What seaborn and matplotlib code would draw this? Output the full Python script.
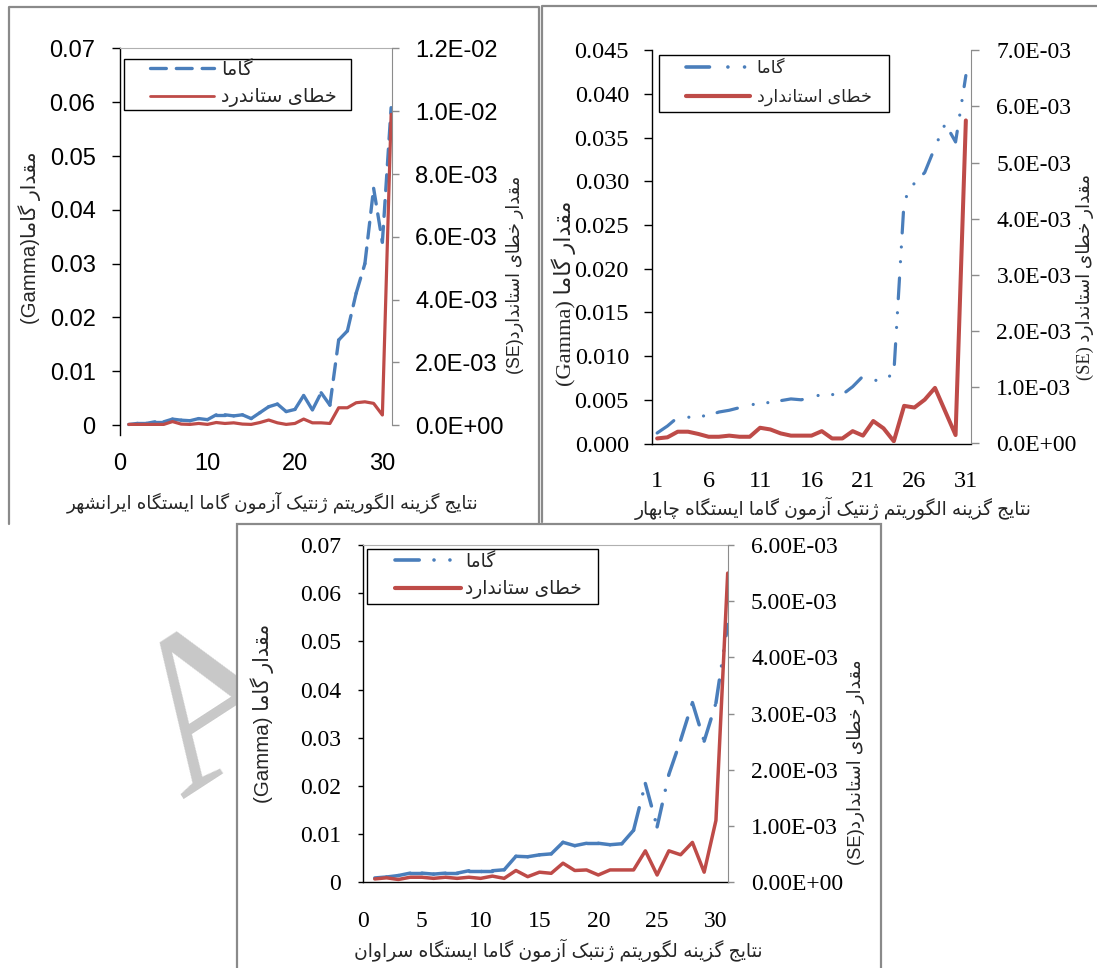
import matplotlib
matplotlib.use('Agg')
import matplotlib.pyplot as plt
import seaborn as sns
from matplotlib.lines import Line2D
from matplotlib.patches import Rectangle
from matplotlib.legend_handler import HandlerLine2D

sns.set_style('white')
SANS = ['Liberation Sans', 'DejaVu Sans']
SERIF = ['Liberation Serif', 'DejaVu Sans']
plt.rcParams['font.family'] = SANS

W, H = 1097, 968
BLUE = '#4A7EBB'
RED = '#BE4B48'
FA_SCALE = 1.08   # persian glyphs in DejaVu are narrow, widen a bit

# ---------------- data ----------------
runs = list(range(1, 32))

# Iranshahr
gamma_iranshahr = [0.0001, 0.0003, 0.0003, 0.0006, 0.0006, 0.0011, 0.0009, 0.0008, 0.0012, 0.0010,
                   0.0019, 0.0019, 0.0017, 0.0019, 0.0012, 0.0023, 0.0034, 0.0039, 0.0025, 0.0029,
                   0.0055, 0.0028, 0.0060, 0.0037, 0.0158, 0.0175, 0.0245, 0.0300, 0.0440, 0.0340,
                   0.0590]
se_iranshahr = [0.00002, 0.00002, 0.00002, 0.00002, 0.00002, 0.00011, 0.00003, 0.00002, 0.00005, 0.00002,
                0.00008, 0.00005, 0.00007, 0.00003, 0.00002, 0.00008, 0.00016, 0.00007, 0.00002, 0.00005,
                0.00019, 0.00007, 0.00007, 0.00005, 0.00055, 0.00055, 0.00071, 0.00074, 0.00069, 0.00032,
                0.00990]

# Chabahar
gamma_chabahar = [0.0012, 0.0020, 0.0030, 0.0030, 0.0031, 0.0032, 0.0036, 0.0038, 0.0041, 0.0044,
                  0.0046, 0.0047, 0.0049, 0.0051, 0.0050, 0.0053, 0.0056, 0.0056, 0.0056, 0.0065,
                  0.0077, 0.0072, 0.0073, 0.0080, 0.0278, 0.0298, 0.0310, 0.0339, 0.0366, 0.0345,
                  0.0421]
se_chabahar = [0.00009, 0.00011, 0.00021, 0.00021, 0.00017, 0.00012, 0.00012, 0.00014, 0.00012, 0.00012,
               0.00028, 0.00025, 0.00018, 0.00014, 0.00014, 0.00014, 0.00022, 0.00009, 0.00009, 0.00022,
               0.00014, 0.00040, 0.00027, 0.00004, 0.00067, 0.00064, 0.00078, 0.00099, 0.00057, 0.00015,
               0.00575]

# Saravan
gamma_saravan = [0.0009, 0.0011, 0.0014, 0.0019, 0.0019, 0.0017, 0.0019, 0.0019, 0.0024, 0.0024,
                 0.0024, 0.0026, 0.0054, 0.0053, 0.0057, 0.0059, 0.0083, 0.0076, 0.0081, 0.0081,
                 0.0078, 0.0080, 0.0108, 0.0205, 0.0115, 0.0224, 0.0295, 0.0373, 0.0293, 0.0372,
                 0.0535]
se_saravan = [0.00006, 0.00008, 0.00005, 0.00009, 0.00009, 0.00007, 0.00009, 0.00007, 0.00009, 0.00007,
              0.00011, 0.00007, 0.00021, 0.00010, 0.00018, 0.00016, 0.00034, 0.00021, 0.00022, 0.00013,
              0.00022, 0.00022, 0.00022, 0.00056, 0.00013, 0.00056, 0.00049, 0.00071, 0.00018, 0.00110,
              0.00550]

# ticks
p1_xticks = [0, 10, 20, 30]
p1_yticks = [0, 0.01, 0.02, 0.03, 0.04, 0.05, 0.06, 0.07]
p1_ylabels = ['0', '0.01', '0.02', '0.03', '0.04', '0.05', '0.06', '0.07']
p1_rticks = [0, 0.002, 0.004, 0.006, 0.008, 0.010, 0.012]
p1_rlabels = ['0.0E+00', '2.0E-03', '4.0E-03', '6.0E-03', '8.0E-03', '1.0E-02', '1.2E-02']

p2_xticks = [1, 6, 11, 16, 21, 26, 31]
p2_yticks = [0, 0.005, 0.010, 0.015, 0.020, 0.025, 0.030, 0.035, 0.040, 0.045]
p2_ylabels = ['0.000', '0.005', '0.010', '0.015', '0.020', '0.025', '0.030', '0.035', '0.040', '0.045']
p2_rticks = [0, 0.001, 0.002, 0.003, 0.004, 0.005, 0.006, 0.007]
p2_rlabels = ['0.0E+00', '1.0E-03', '2.0E-03', '3.0E-03', '4.0E-03', '5.0E-03', '6.0E-03', '7.0E-03']

p3_xticks = [0, 5, 10, 15, 20, 25, 30]
p3_yticks = [0, 0.01, 0.02, 0.03, 0.04, 0.05, 0.06, 0.07]
p3_ylabels = ['0', '0.01', '0.02', '0.03', '0.04', '0.05', '0.06', '0.07']
p3_rticks = [0, 0.001, 0.002, 0.003, 0.004, 0.005, 0.006]
p3_rlabels = ['0.00E+00', '1.00E-03', '2.00E-03', '3.00E-03', '4.00E-03', '5.00E-03', '6.00E-03']

# texts (logical order)
leg_gamma = 'گاما'
leg_se1 = 'خطای ستاندرد'
leg_se2 = 'خطای استاندارد'
leg_se3 = 'خطای ستاندارد'
yl_gamma = 'مقدار گاما'
yl_se = 'مقدار خطای استاندارد'
xl1 = 'نتایج گزینه الگوریتم ژنتیک آزمون گاما ایستگاه ایرانشهر'
xl2 = 'نتایج گزینه الگوریتم ژنتیک آزمون گاما ایستگاه چابهار'
xl3 = 'نتایج گزینه لگوریتم ژنتبک آزمون گاما ایستگاه سراوان'

# ------------- persian shaping (no reshaper lib available) -------------
DUAL = {'ب': 0xFE8F, 'ت': 0xFE95, 'ث': 0xFE99, 'ج': 0xFE9D, 'ح': 0xFEA1, 'خ': 0xFEA5,
        'س': 0xFEB1, 'ش': 0xFEB5, 'ص': 0xFEB9, 'ض': 0xFEBD, 'ط': 0xFEC1, 'ظ': 0xFEC5,
        'ع': 0xFEC9, 'غ': 0xFECD, 'ف': 0xFED1, 'ق': 0xFED5, 'ل': 0xFEDD, 'م': 0xFEE1,
        'ن': 0xFEE5, 'ه': 0xFEE9, 'پ': 0xFB56, 'چ': 0xFB7A, 'ک': 0xFB8E, 'گ': 0xFB92,
        'ی': 0xFBFC}
RIGHT = {'ا': 0xFE8D, 'آ': 0xFE81, 'د': 0xFEA9, 'ذ': 0xFEAB, 'ر': 0xFEAD, 'ز': 0xFEAF,
         'ژ': 0xFB8A, 'و': 0xFEED}


def rtl(s):
    out = []
    for i, c in enumerate(s):
        if c in DUAL or c in RIGHT:
            base = DUAL.get(c, RIGHT.get(c))
            p = s[i - 1] if i > 0 else ''
            q = s[i + 1] if i < len(s) - 1 else ''
            jp = p in DUAL
            jn = c in DUAL and (q in DUAL or q in RIGHT)
            k = 3 if (jp and jn) else 1 if jp else 2 if jn else 0
            out.append(chr(base + k))
        else:
            out.append(c)
    return ''.join(out)[::-1]


fig = plt.figure(figsize=(W / 100, H / 100), dpi=100)
renderer = fig.canvas.get_renderer()


def px_axes(l, t, r, b):
    return fig.add_axes([l / W, 1 - b / H, (r - l) / W, (b - t) / H])


def fig_line(xs, ys, **kw):
    fig.add_artist(Line2D([x / W for x in xs], [1 - y / H for y in ys],
                          transform=fig.transFigure, **kw))


def put_text(s, cx, cy, length, family, rot=0, base=14):
    t = fig.text(cx / W, 1 - cy / H, s, ha='center', va='center', rotation=rot,
                 fontsize=base, family=family)
    bb = t.get_window_extent(renderer)
    cur = bb.width if rot == 0 else bb.height
    t.set_fontsize(base * length * FA_SCALE / cur)
    return t


def measure(s, size, family):
    t = fig.text(0, 0, s, fontsize=size, family=family)
    bb = t.get_window_extent(renderer)
    t.remove()
    return bb.width, bb.height


def add_legend(ax, axbox, handles, labels, box, rows, handle_x, text_x, text_w):
    base = 12
    w0 = max(measure(lab, base, SANS)[0] for lab in labels)
    fs_pt = base * text_w * FA_SCALE / w0
    fs = fs_pt * 100 / 72
    h_row = max(measure(lab, fs_pt, SANS)[1] for lab in labels)
    l, t, r, b = box
    bp = max((rows[0] - t - h_row / 2) / fs, 0.05)
    ls = max((rows[1] - rows[0] - h_row) / fs, 0)
    x0 = l + bp * fs
    al, at, ar, ab = axbox
    leg = ax.legend(handles, labels, loc='upper left',
                    bbox_to_anchor=((l - al) / (ar - al), (ab - b) / (ab - at),
                                    (r - l) / (ar - al), (b - t) / (ab - at)),
                    mode='expand', borderaxespad=0, borderpad=bp, labelspacing=ls,
                    handlelength=(handle_x[1] - x0) / fs,
                    handletextpad=(text_x - handle_x[1]) / fs,
                    prop={'family': SANS, 'size': fs_pt}, frameon=True, fancybox=False,
                    framealpha=1, edgecolor='black',
                    handler_map={Line2D: HandlerLine2D(xpad=(handle_x[0] - x0) / fs)})
    leg.get_frame().set_linewidth(1.0)
    return leg


def seg_plot(ax, xs, ys, **kw):
    # excel restarts the dash pattern at every vertex
    for i in range(len(xs) - 1):
        ax.plot(xs[i:i + 2], ys[i:i + 2], **kw)


# ---------------- panel frames + watermark ----------------
GRAYF = '#8a8a8a'
fig_line([9, 9, 539, 539], [524, 7, 7, 524], color=GRAYF, lw=1.6, zorder=-1)
fig_line([542, 542, 1100], [522, 6, 6], color=GRAYF, lw=1.6, zorder=-1)
fig.text(220 / W, 1 - 712 / H, 'A', family='Liberation Serif', fontsize=158, color='#c8c8c8',
         rotation=33, ha='center', va='center', zorder=-3)
fig.add_artist(Rectangle((237 / W, 1 - 975 / H), 644 / W, 451 / H, transform=fig.transFigure,
                         facecolor='white', edgecolor=GRAYF, lw=1.6, zorder=-2))

# ---------------- panel 1 : Iranshahr ----------------
box1 = (120, 48.5, 392, 434.6)
ax1 = px_axes(*box1)
seg_plot(ax1, runs, gamma_iranshahr, color=BLUE, lw=2.4, linestyle=(0, (4.75, 3.0)),
         dash_capstyle='round', solid_capstyle='round')
ax1.set_xlim(0, 31.1)
ax1.set_ylim(-0.00178, 0.07)
ax1b = ax1.twinx()
sns.lineplot(x=runs, y=se_iranshahr, ax=ax1b, color=RED, lw=2.3,
             solid_joinstyle='round', solid_capstyle='round')
ax1b.set_ylim(-0.00178 * 0.012 / 0.07, 0.012)

ax1.set_xticks(p1_xticks, [str(v) for v in p1_xticks])
ax1.set_yticks(p1_yticks, p1_ylabels)
ax1.tick_params(axis='x', direction='in', length=5.8, width=1, pad=13, labelsize=17, colors='black')
ax1.tick_params(axis='y', direction='out', length=5.8, width=1, pad=11.8, labelsize=17, colors='black')
ax1b.set_yticks(p1_rticks, p1_rlabels)
ax1b.tick_params(axis='y', direction='out', length=5, width=1, pad=11.7, labelsize=17,
                 color='#8c8c8c', labelcolor='black')
for sp in ['bottom', 'right']:
    ax1.spines[sp].set_visible(False)
ax1.spines['left'].set_color('black')
ax1.spines['left'].set_linewidth(1.0)
ax1.spines['top'].set_color('#b0b0b0')
ax1.spines['top'].set_linewidth(0.8)
for sp in ['bottom', 'top', 'left']:
    ax1b.spines[sp].set_visible(False)
ax1b.spines['right'].set_color('#8c8c8c')
ax1b.spines['right'].set_bounds(0, 0.012)
ax1b.set_xlabel('')
ax1b.set_ylabel('')

add_legend(ax1b, box1,
           [Line2D([], [], color=BLUE, lw=2.4, linestyle=(0, (4.75, 3.0)), dash_capstyle='round'),
            Line2D([], [], color=RED, lw=2.0)],
           [rtl(leg_gamma), rtl(leg_se1)],
           (124, 58.6, 351, 114), (71, 99.4), (149.5, 214), 220.7, 107)

put_text(rtl(xl1), 273, 502, 382, SANS)
put_text('(Gamma)' + rtl(yl_gamma), 30, 238, 161, SANS, rot=90)
put_text('(SE)' + rtl(yl_se), 515, 275, 185, SANS, rot=90)

# ---------------- panel 2 : Chabahar ----------------
box2 = (652, 50.2, 971, 443.5)
ax2 = px_axes(*box2)
sns.lineplot(x=runs, y=gamma_chabahar, ax=ax2, color=BLUE, lw=2.3,
             linestyle=(0, (6.5, 5.1, 0.01, 4.6, 0.01, 4.4)), dash_capstyle='round')
ax2.set_xlim(0.5, 31.5)
ax2.set_ylim(0, 0.045)
ax2b = ax2.twinx()
sns.lineplot(x=runs, y=se_chabahar, ax=ax2b, color=RED, lw=2.9,
             solid_joinstyle='round', solid_capstyle='round')
ax2b.set_ylim(0, 0.007)

ax2.set_xticks(p2_xticks, [str(v) for v in p2_xticks], fontfamily=SERIF)
ax2.set_xticks([0.5, 31.5], minor=True)
ax2.set_yticks(p2_yticks, p2_ylabels, fontfamily=SERIF)
ax2.tick_params(axis='x', which='major', length=0, pad=20, labelsize=17.5, colors='black')
ax2.tick_params(axis='x', which='minor', direction='out', length=5, width=1, color='black')
ax2.tick_params(axis='y', direction='out', length=5.6, width=1, pad=11, labelsize=17.5, colors='black')
ax2b.set_yticks(p2_rticks, p2_rlabels, fontfamily=SERIF)
ax2b.tick_params(axis='y', direction='out', length=5.5, width=1, pad=12.8, labelsize=17,
                 color='#8c8c8c', labelcolor='black')
ax2.spines['top'].set_visible(False)
ax2.spines['right'].set_visible(False)
for sp in ['left', 'bottom']:
    ax2.spines[sp].set_color('black')
    ax2.spines[sp].set_linewidth(1.0)
for sp in ['bottom', 'top', 'left']:
    ax2b.spines[sp].set_visible(False)
ax2b.spines['right'].set_color('#8c8c8c')
ax2.set_xlabel('')
ax2.set_ylabel('')
ax2b.set_ylabel('')

add_legend(ax2b, box2,
           [Line2D([], [], color=BLUE, lw=2.6, linestyle=(0, (6.5, 5.1, 0.01, 4.6, 0.01, 4.4)),
                   dash_capstyle='round'),
            Line2D([], [], color=RED, lw=3.0)],
           [rtl(leg_gamma), rtl(leg_se2)],
           (659, 55, 889, 114.5), (69.6, 99.4), (685.6, 749.6), 756.7, 106)

put_text(rtl(xl2), 833, 508, 370, SANS)
put_text('(Gamma) ' + rtl(yl_gamma), 564, 293, 173, SERIF, rot=90)
put_text('(SE) ' + rtl(yl_se), 1085, 277, 192, SERIF, rot=90)

# ---------------- panel 3 : Saravan ----------------
box3 = (363, 545, 728.4, 882.3)
ax3 = px_axes(*box3)
seg_plot(ax3, runs, gamma_saravan, color=BLUE, lw=2.5,
         linestyle=(0, (6.7, 4.1, 0.01, 4.4, 0.01, 4.4)),
         dash_capstyle='round', solid_capstyle='round')
ax3.set_xlim(0, 31.06)
ax3.set_ylim(0, 0.07)
ax3b = ax3.twinx()
sns.lineplot(x=runs, y=se_saravan, ax=ax3b, color=RED, lw=2.5,
             solid_joinstyle='round', solid_capstyle='round')
ax3b.set_ylim(0, 0.006)

ax3.set_xticks(p3_xticks, [str(v) for v in p3_xticks], fontfamily=SERIF)
ax3.set_yticks(p3_yticks, p3_ylabels, fontfamily=SERIF)
ax3.tick_params(axis='x', direction='out', length=5, width=1, pad=16, labelsize=17, colors='black')
ax3.tick_params(axis='y', direction='out', length=3.9, width=1, pad=12, labelsize=17, colors='black')
ax3.xaxis.get_major_ticks()[2].tick1line.set_visible(False)
ax3b.set_yticks(p3_rticks, p3_rlabels, fontfamily=SERIF)
ax3b.tick_params(axis='y', direction='out', length=4.5, width=1, pad=11.8, labelsize=17,
                 color='#8c8c8c', labelcolor='black')
ax3.spines['right'].set_visible(False)
for sp in ['left', 'bottom']:
    ax3.spines[sp].set_color('black')
    ax3.spines[sp].set_linewidth(1.0)
ax3.spines['top'].set_color('#b0b0b0')
ax3.spines['top'].set_linewidth(0.8)
for sp in ['bottom', 'top', 'left']:
    ax3b.spines[sp].set_visible(False)
ax3b.spines['right'].set_color('#8c8c8c')
ax3b.set_ylabel('')

add_legend(ax3b, box3,
           [Line2D([], [], color=BLUE, lw=2.6, linestyle=(0, (6.7, 4.1, 0.01, 4.4, 0.01, 4.4)),
                   dash_capstyle='round'),
            Line2D([], [], color=RED, lw=3.0)],
           [rtl(leg_gamma), rtl(leg_se3)],
           (367, 549, 598, 608), (563.3, 591.7), (394.6, 461), 465, 108)

put_text(rtl(xl3), 558, 950, 380, SANS)
put_text('(Gamma) ' + rtl(yl_gamma), 262, 713, 167, SANS, rot=90)
put_text('(SE)' + rtl(yl_se), 856, 762, 191, SANS, rot=90)

fig.savefig('out.png', dpi=100, facecolor='white')
